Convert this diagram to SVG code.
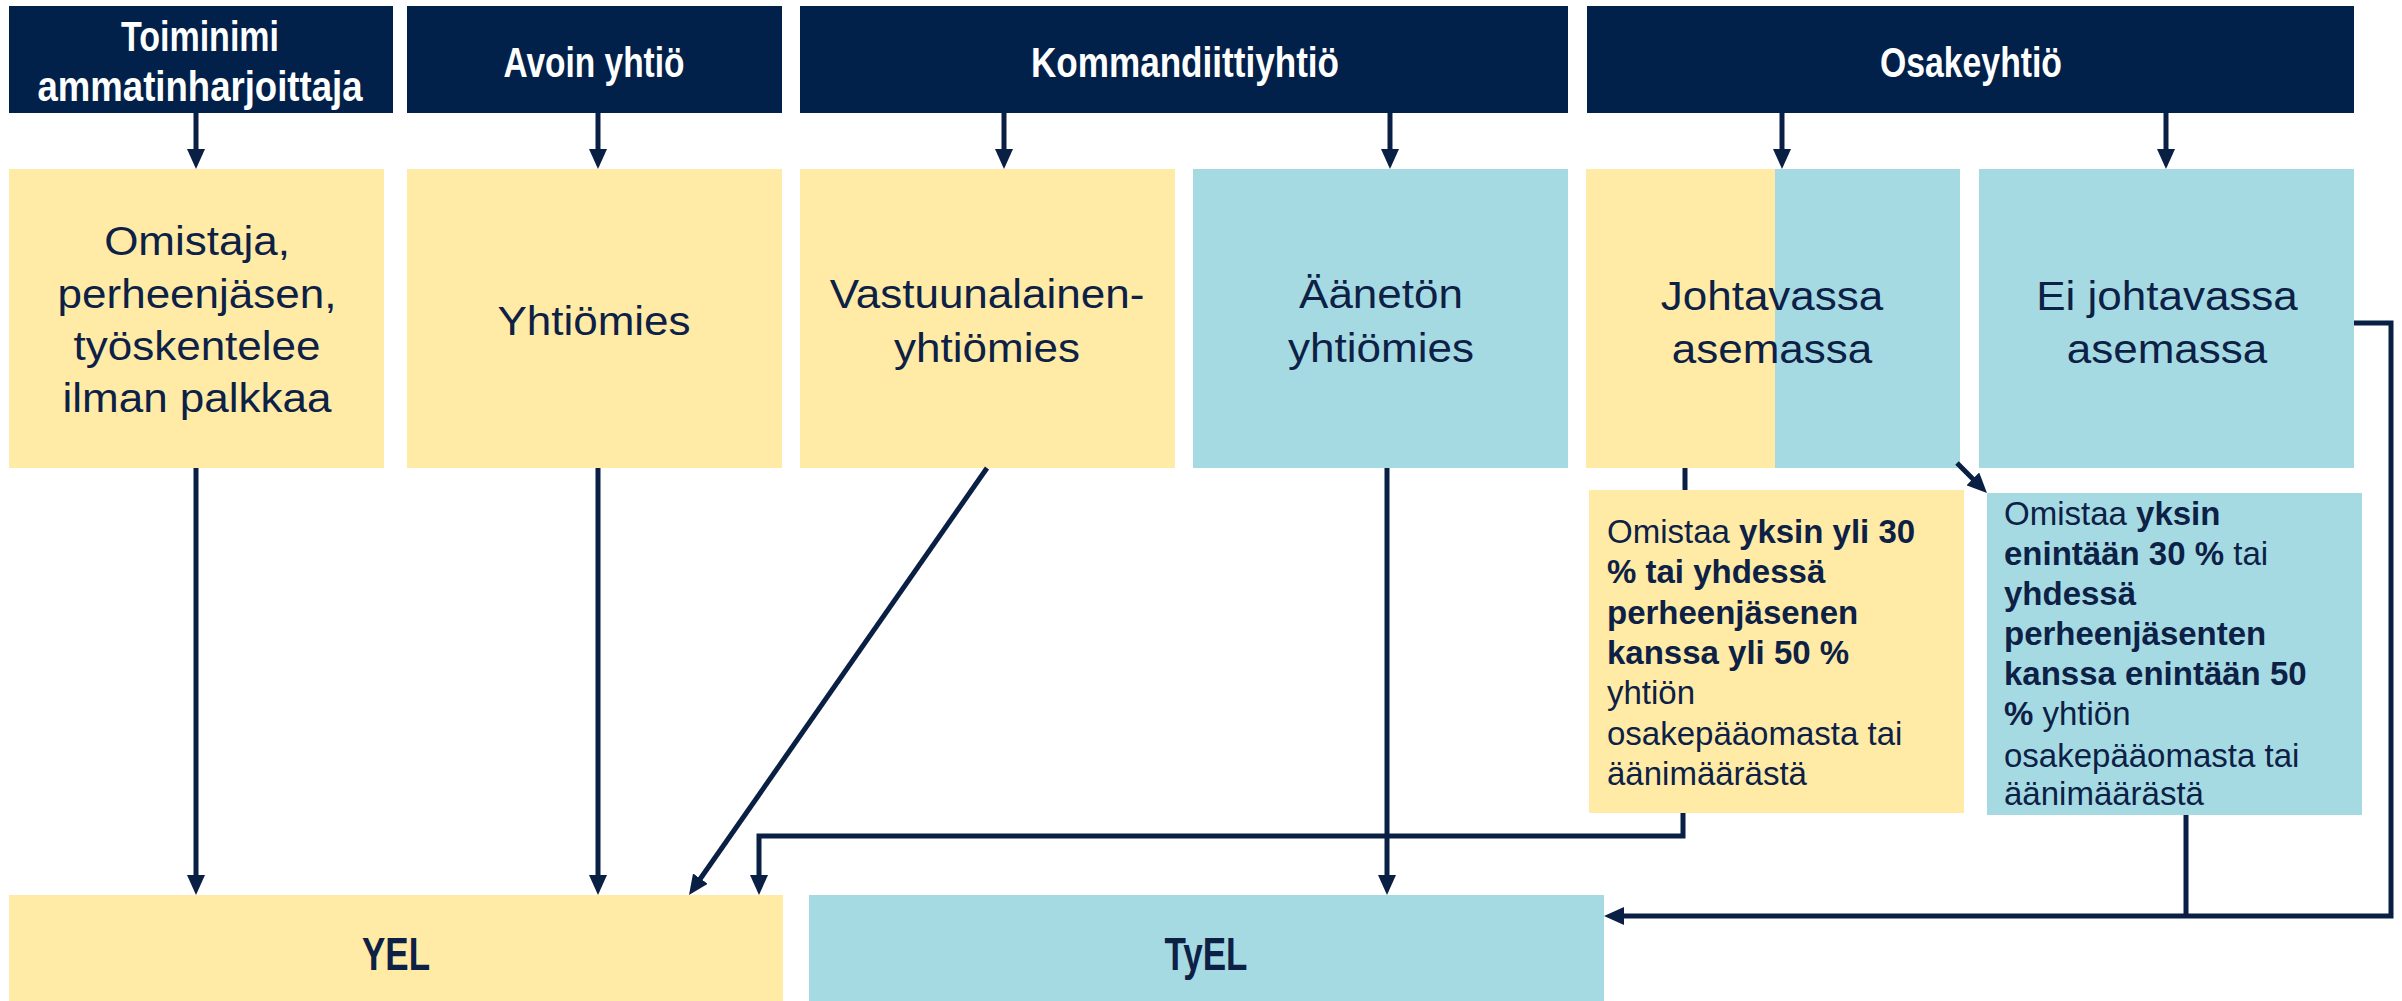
<svg xmlns="http://www.w3.org/2000/svg" width="2402" height="1001" viewBox="0 0 2402 1001">
<style>
.hdr{fill:#02214a}
.yel{fill:#ffeba5}
.blu{fill:#a6dae3}
.ht{font-family:"Liberation Sans",Arial,sans-serif;font-weight:bold;font-size:42px;fill:#ffffff;text-anchor:middle}
.bt{font-family:"Liberation Sans",Arial,sans-serif;font-size:40px;fill:#0d2146;text-anchor:middle}
.ct{font-family:"Liberation Sans",Arial,sans-serif;font-size:33px;fill:#0d2146}
.b{font-weight:bold}
.lt{font-family:"Liberation Sans",Arial,sans-serif;font-weight:bold;font-size:47px;fill:#0d2146;text-anchor:middle}
.con{fill:none;stroke:#0a1f44;stroke-width:5}
</style>
<defs>
<marker id="ah" markerUnits="userSpaceOnUse" markerWidth="20" markerHeight="18" viewBox="0 0 20 18" refX="10" refY="9" orient="auto">
<path d="M0,0 L20,9 L0,18 z" fill="#0a1f44"/>
</marker>
</defs>
<rect width="2402" height="1001" fill="#ffffff"/>

<g id="h-toiminimi">
<rect class="hdr" x="9" y="6" width="384" height="107"/>
<text class="ht"><tspan x="200" y="51" textLength="158" lengthAdjust="spacingAndGlyphs">Toiminimi</tspan><tspan x="200" y="101" textLength="325" lengthAdjust="spacingAndGlyphs">ammatinharjoittaja</tspan></text>
</g>
<g id="h-avoin">
<rect class="hdr" x="407" y="6" width="375" height="107"/>
<text class="ht" x="594" y="77" textLength="181" lengthAdjust="spacingAndGlyphs">Avoin yhtiö</text>
</g>
<g id="h-kommandiitti">
<rect class="hdr" x="800" y="6" width="768" height="107"/>
<text class="ht" x="1185" y="77" textLength="308" lengthAdjust="spacingAndGlyphs">Kommandiittiyhtiö</text>
</g>
<g id="h-osakeyhtio">
<rect class="hdr" x="1587" y="6" width="767" height="107"/>
<text class="ht" x="1971" y="77" textLength="182" lengthAdjust="spacingAndGlyphs">Osakeyhtiö</text>
</g>

<g id="n-omistaja">
<rect class="yel" x="9" y="169" width="375" height="299"/>
<text class="bt" transform="translate(197 0) scale(1.1 1)"><tspan x="0" y="255">Omistaja,</tspan><tspan x="0" y="308">perheenjäsen,</tspan><tspan x="0" y="360">työskentelee</tspan><tspan x="0" y="412">ilman palkkaa</tspan></text>
</g>
<g id="n-yhtiomies">
<rect class="yel" x="407" y="169" width="375" height="299"/>
<text class="bt" transform="translate(594 0) scale(1.1 1)"><tspan x="0" y="335">Yhtiömies</tspan></text>
</g>
<g id="n-vastuunalainen">
<rect class="yel" x="800" y="169" width="375" height="299"/>
<text class="bt" transform="translate(987 0) scale(1.1 1)"><tspan x="0" y="308">Vastuunalainen-</tspan><tspan x="0" y="362">yhtiömies</tspan></text>
</g>
<g id="n-aaneton">
<rect class="blu" x="1193" y="169" width="375" height="299"/>
<text class="bt" transform="translate(1381 0) scale(1.1 1)"><tspan x="0" y="308">Äänetön</tspan><tspan x="0" y="362">yhtiömies</tspan></text>
</g>
<g id="n-johtavassa">
<rect class="yel" x="1586" y="169" width="190" height="299"/>
<rect class="blu" x="1775" y="169" width="185" height="299"/>
<text class="bt" transform="translate(1772 0) scale(1.1 1)"><tspan x="0" y="310">Johtavassa</tspan><tspan x="0" y="363">asemassa</tspan></text>
</g>
<g id="n-ei-johtavassa">
<rect class="blu" x="1979" y="169" width="375" height="299"/>
<text class="bt" transform="translate(2167 0) scale(1.1 1)"><tspan x="0" y="310">Ei johtavassa</tspan><tspan x="0" y="363">asemassa</tspan></text>
</g>

<g id="n-yli30">
<rect class="yel" x="1589" y="490" width="375" height="323"/>
<text class="ct"><tspan x="1607" y="543">Omistaa </tspan><tspan class="b">yksin yli 30</tspan><tspan class="b" x="1607" y="583">% tai yhdessä</tspan><tspan class="b" x="1607" y="624">perheenjäsenen</tspan><tspan class="b" x="1607" y="664">kanssa yli 50 %</tspan><tspan x="1607" y="704">yhtiön</tspan><tspan x="1607" y="745">osakepääomasta tai</tspan><tspan x="1607" y="785">äänimäärästä</tspan></text>
</g>
<g id="n-enintaan30">
<rect class="blu" x="1987" y="493" width="375" height="322"/>
<text class="ct"><tspan x="2004" y="525">Omistaa </tspan><tspan class="b">yksin</tspan><tspan class="b" x="2004" y="565">enintään 30 %</tspan><tspan> tai</tspan><tspan class="b" x="2004" y="605">yhdessä</tspan><tspan class="b" x="2004" y="645">perheenjäsenten</tspan><tspan class="b" x="2004" y="685">kanssa enintään 50</tspan><tspan class="b" x="2004" y="725">%</tspan><tspan> yhtiön</tspan><tspan x="2004" y="767">osakepääomasta tai</tspan><tspan x="2004" y="805">äänimäärästä</tspan></text>
</g>

<g id="n-yel">
<rect class="yel" x="9" y="895" width="774" height="106"/>
<text class="lt" x="396" y="970" textLength="68" lengthAdjust="spacingAndGlyphs">YEL</text>
</g>
<g id="n-tyel">
<rect class="blu" x="809" y="895" width="795" height="106"/>
<text class="lt" x="1206" y="970" textLength="83" lengthAdjust="spacingAndGlyphs">TyEL</text>
</g>

<g id="connectors">
<path class="con" d="M196,113 V159" marker-end="url(#ah)"/>
<path class="con" d="M598,113 V159" marker-end="url(#ah)"/>
<path class="con" d="M1004,113 V159" marker-end="url(#ah)"/>
<path class="con" d="M1390,113 V159" marker-end="url(#ah)"/>
<path class="con" d="M1782,113 V159" marker-end="url(#ah)"/>
<path class="con" d="M2166,113 V159" marker-end="url(#ah)"/>
<path class="con" d="M196,468 V885" marker-end="url(#ah)"/>
<path class="con" d="M598,468 V885" marker-end="url(#ah)"/>
<path class="con" d="M987,468 L694.7,886.8" marker-end="url(#ah)"/>
<path class="con" d="M1387,468 V885" marker-end="url(#ah)"/>
<path class="con" d="M1685,468 V490"/>
<path class="con" d="M1683,813 V836 H759 V885" marker-end="url(#ah)"/>
<path class="con" d="M1957,463 L1979.9,485.9" marker-end="url(#ah)"/>
<path class="con" d="M2186,815 V916"/>
<path class="con" d="M2354,323 H2391 V916 H1614" marker-end="url(#ah)"/>
</g>
</svg>
